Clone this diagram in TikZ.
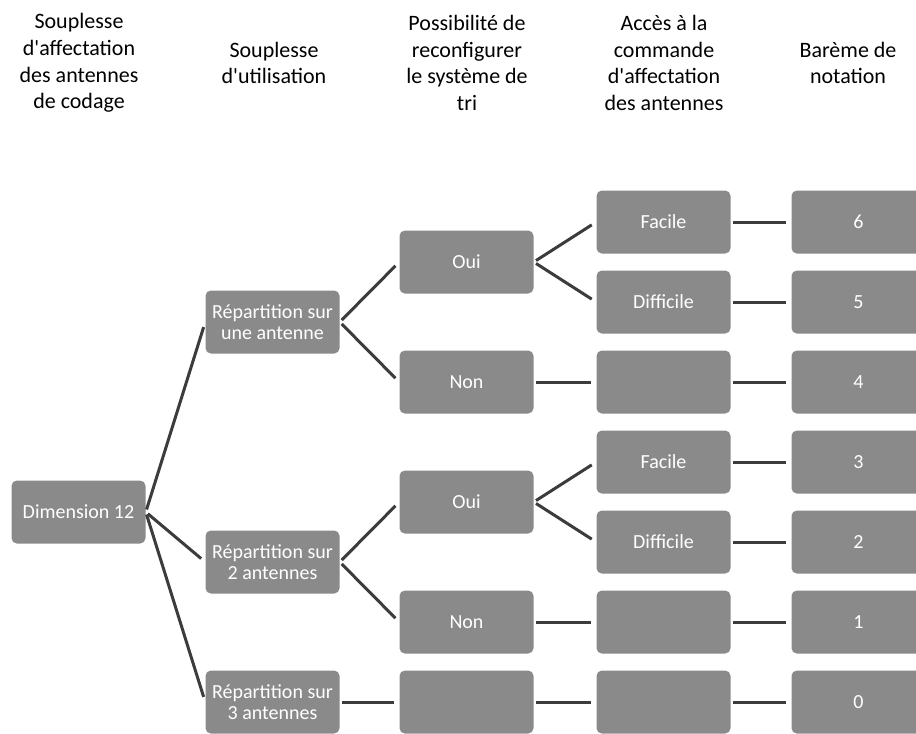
\documentclass[tikz,border=0pt]{standalone}
\usepackage{fontspec}
\setmainfont{Carlito}[Ligatures=TeXOff]
\definecolor{boxgray}{RGB}{138,138,138}
\definecolor{linegray}{RGB}{60,60,60}
\begin{document}
\begin{tikzpicture}[x=0.75pt,y=-0.75pt,
  box/.style={fill=boxgray, rounded corners=4pt, minimum width=100.5pt, minimum height=47.25pt,
    text=white, align=center, font=\fontsize{15}{16}\selectfont, inner sep=1pt},
  head/.style={align=center, font=\fontsize{16.5}{20}\selectfont, text=black},
  link/.style={draw=linegray, line width=2.25pt, shorten <=2pt, shorten >=4pt}]
\clip (0,0) rectangle (916,733);
% headers
\node[head] (h0) at (79,63) {Souplesse\\d'affectation\\des antennes\\de codage};
\node[head] (h1) at (274,63) {Souplesse\\d'utilisation};
\node[head] (h2) at (467,63) {Possibilité de\\reconfigurer\\le système de\\tri};
\node[head] (h3) at (664,63) {Accès à la\\commande\\d'affectation\\des antennes};
\node[head] (h4) at (848,63) {Barème de\\notation};
% column 0
\node[box] (d12) at (78.5,512) {Dimension 12};
% column 1
\node[box] (r1) at (272.5,322) {Répartition sur\\une antenne};
\node[box] (r2) at (272.5,562) {Répartition sur\\2 antennes};
\node[box] (r3) at (272.5,702) {Répartition sur\\3 antennes};
% column 2
\node[box] (o1) at (466.5,262) {Oui};
\node[box] (n1) at (466.5,382) {Non};
\node[box] (o2) at (466.5,502) {Oui};
\node[box] (n2) at (466.5,622) {Non};
\node[box] (e2) at (466.5,702) {};
% column 3
\node[box] (f1) at (663.5,222) {Facile};
\node[box] (g1) at (663.5,302) {Difficile};
\node[box] (e31) at (663.5,382) {};
\node[box] (f2) at (663.5,462) {Facile};
\node[box] (g2) at (663.5,542) {Difficile};
\node[box] (e32) at (663.5,622) {};
\node[box] (e33) at (663.5,702) {};
% column 4
\node[box] (s6) at (858.5,222) {6};
\node[box] (s5) at (858.5,302) {5};
\node[box] (s4) at (858.5,382) {4};
\node[box] (s3) at (858.5,462) {3};
\node[box] (s2) at (858.5,542) {2};
\node[box] (s1) at (858.5,622) {1};
\node[box] (s0) at (858.5,702) {0};
% connectors
\foreach \a/\b in {d12/r1,d12/r2,d12/r3,r1/o1,r1/n1,r2/o2,r2/n2,r3/e2,
  o1/f1,o1/g1,n1/e31,o2/f2,o2/g2,n2/e32,e2/e33,
  f1/s6,g1/s5,e31/s4,f2/s3,g2/s2,e32/s1,e33/s0}
  \draw[link] (\a.east) -- (\b.west);
\end{tikzpicture}
\end{document}
